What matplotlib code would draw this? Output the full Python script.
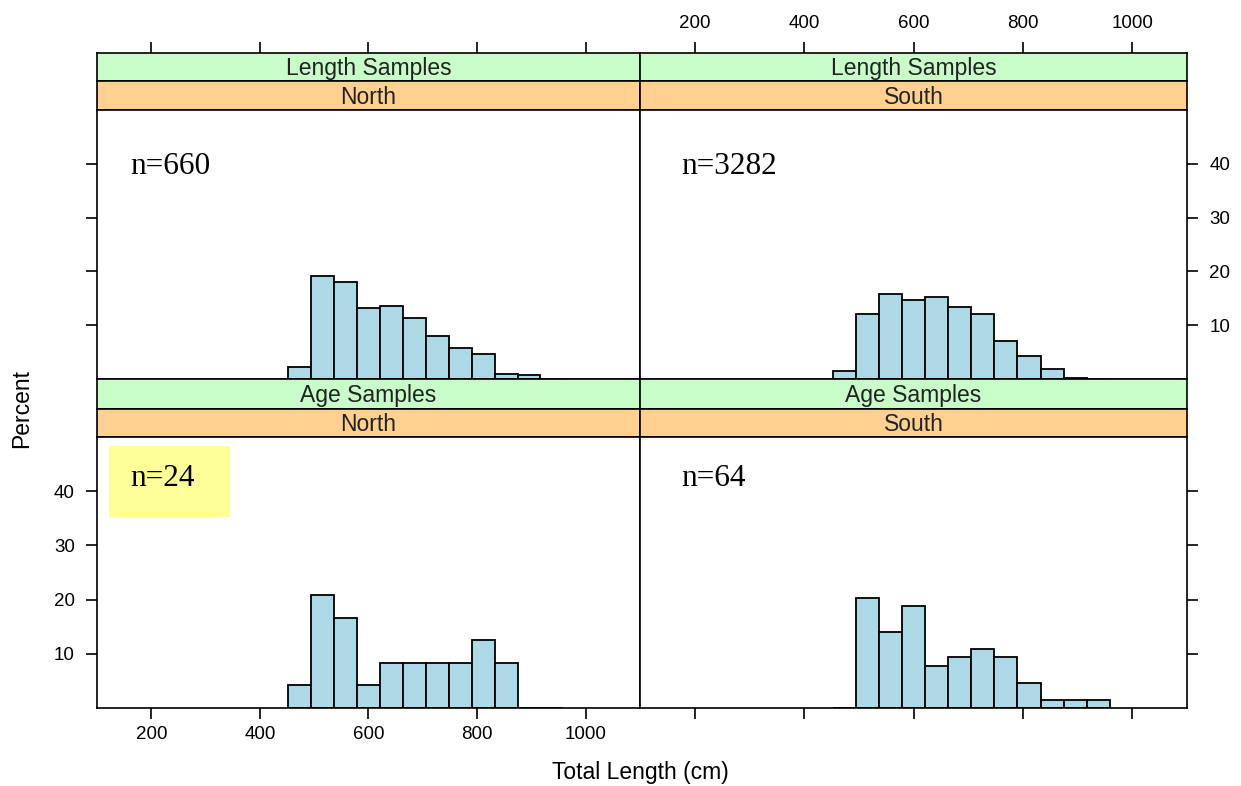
import numpy as np
import matplotlib
matplotlib.use("Agg")
from matplotlib import pyplot as plt
from matplotlib.patches import Rectangle

plt.rcParams['font.family'] = ['Liberation Sans', 'DejaVu Sans']

# histogram breaks (cm), shared by all panels
breaks = [452.5, 494.7, 536.9, 579.1, 621.3, 663.5, 705.7, 747.9, 790.1, 832.3, 874.5, 916.7, 958.9]

# percent of fish in each bin
north_length = [2.15, 19.1, 18.0, 13.2, 13.6, 11.3, 8.0, 5.8, 4.7, 1.0, 0.7, 0.0]
south_length = [1.5, 12.1, 15.8, 14.7, 15.2, 13.3, 12.1, 7.0, 4.3, 1.8, 0.25, 0.0]
north_age = [4.17, 20.83, 16.67, 4.17, 8.33, 8.33, 8.33, 8.33, 12.5, 8.33, 0.0, 0.0]
south_age = [0.0, 20.31, 14.06, 18.75, 7.81, 9.38, 10.94, 9.38, 4.69, 1.56, 1.56, 1.56]

sample_types = ['Length Samples', 'Age Samples']
regions = ['North', 'South']
counts = {('Length Samples', 'North'): 660, ('Length Samples', 'South'): 3282,
          ('Age Samples', 'North'): 24, ('Age Samples', 'South'): 64}
values = {('Length Samples', 'North'): north_length, ('Length Samples', 'South'): south_length,
          ('Age Samples', 'North'): north_age, ('Age Samples', 'South'): south_age}

x_ticks = [200, 400, 600, 800, 1000]
y_ticks = [10, 20, 30, 40]

W, H = 1241, 786
fig = plt.figure(figsize=(W / 100, H / 100), dpi=100)


def box(l, t, r, b):
    return [l / W, 1 - b / H, (r - l) / W, (b - t) / H]


col_x = [(97, 640), (640, 1187)]
# (green strip top, orange strip top, panel top, panel bottom)
row_y = [(53, 81, 110, 379), (379, 409, 437, 708)]
green = '#c8fcc8'
orange = '#ffd08f'
bar_col = '#add8e6'
xlim = (100, 1100)

tick_kw = dict(direction='out', length=8, width=1.2, labelsize=13.5, color='black')

for i, stype in enumerate(sample_types):
    g_top, o_top, p_top, p_bot = row_y[i]
    for j, reg in enumerate(regions):
        l, r = col_x[j]

        # strips
        for (t, b, fc, txt) in [(g_top, o_top, green, stype), (o_top, p_top, orange, reg)]:
            sax = fig.add_axes(box(l, t, r, b))
            sax.set_facecolor(fc)
            sax.set_xlim(xlim)
            sax.set_yticks([])
            sax.text(0.5, 0.44, txt, transform=sax.transAxes, ha='center', va='center',
                     fontsize=16.5, color='#222222')
            for s in sax.spines.values():
                s.set_linewidth(1.2)
            if i == 0 and t == g_top:
                sax.set_xticks(x_ticks)
                sax.tick_params(axis='x', top=True, bottom=False, labelbottom=False,
                                labeltop=(j == 1), pad=7, **tick_kw)
            else:
                sax.set_xticks([])

        ax = fig.add_axes(box(l, p_top, r, p_bot))
        ax.bar(breaks[:-1], values[(stype, reg)], width=np.diff(breaks), align='edge',
               color=bar_col, edgecolor='black', linewidth=1.3)
        ax.set_xlim(xlim)
        ax.set_ylim(0, 50)
        for s in ax.spines.values():
            s.set_linewidth(1.2)

        # alternating lattice axes
        if i == 1:
            ax.set_xticks(x_ticks)
            ax.tick_params(axis='x', bottom=True, labelbottom=(j == 0), pad=5, **tick_kw)
        else:
            ax.set_xticks([])
        ax.set_yticks(y_ticks)
        if j == 0:
            ax.tick_params(axis='y', left=True, right=False, labelleft=(i == 1), pad=8, **tick_kw)
        else:
            ax.tick_params(axis='y', left=False, right=True, labelleft=False,
                           labelright=(i == 0), pad=8, **tick_kw)

        n_txt = 'n=%d' % counts[(stype, reg)]
        x_txt = 0.061 if j == 0 else 0.075
        y_txt = 0.762 if i == 0 else 0.82
        if i == 1 and j == 0:
            ax.add_patch(Rectangle((0.0227, 0.704), 0.222, 0.263, transform=ax.transAxes,
                                   facecolor='#ffff99', edgecolor='none', zorder=0))
        ax.text(x_txt, y_txt, n_txt, transform=ax.transAxes, ha='left', va='baseline',
                fontsize=22.5, family=['Liberation Serif', 'DejaVu Serif'])

fig.text(22 / W, 1 - 408 / H, 'Percent', rotation=90, ha='center', va='center', fontsize=16.5)
fig.text(640 / W, 1 - 773 / H, 'Total Length (cm)', ha='center', va='center', fontsize=16.5)

fig.savefig('out.png', dpi=100)
